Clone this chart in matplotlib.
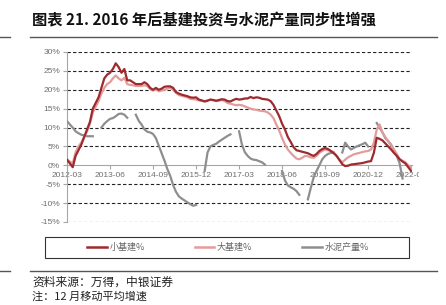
import numpy as np
import matplotlib
matplotlib.use("Agg")
import matplotlib.pyplot as plt
from matplotlib.patches import Rectangle
from matplotlib.lines import Line2D
from matplotlib.transforms import Bbox, TransformedBbox

plt.rcParams['font.family'] = ['Noto Sans CJK SC', 'DejaVu Sans']

# monthly, 2012-03 .. 2022-03 (121 points)
small_infra = [1.5, 0.5, -0.5, 2.5, 4, 5.5, 7.5, 9.5, 11.5, 15,
               16.5, 18, 20.5, 23, 24, 24.5, 25.5, 27, 26, 24.5,
               25.5, 22.5, 22.5, 22, 21.5, 21.5, 21.5, 22, 21.5, 20.5,
               20, 20.5, 20, 20.3, 20.8, 20.9, 20.9, 20.5, 19.4, 19,
               18.7, 18.5, 18.3, 18, 17.9, 18, 17.4, 17.2, 16.9, 17.1,
               17.4, 17.3, 17.1, 17.3, 17.5, 17.4, 17, 16.9, 17.3, 17.6,
               17.4, 17.5, 17.7, 17.7, 18.1, 17.8, 18, 17.9, 17.6, 17.5,
               17.4, 17, 16, 14.5, 13, 11, 9.5, 7.5, 6.2, 4.8,
               4, 3.8, 3.6, 3.4, 3.2, 2.8, 2.5, 3, 3.8, 4.3,
               4.6, 4.3, 3.8, 3.2, 2.5, 1.4, 0.3, -0.2, -0.1, 0.2,
               0.3, 0.4, 0.5, 0.6, 0.8, 1, 1.1, 3.3, 7.3, 7,
               6.6, 5.8, 5, 4.2, 3.3, 2.5, 1.6, 1.0, 0.5, -0.5,
               -1.5]
large_infra = [1.5, 1, 0.5, 3.5, 5, 6, 7.5, 9, 11, 14,
               15.5, 17, 19, 20.5, 21.5, 22, 23, 23.8, 23, 22.5,
               23.2, 21.5, 21.3, 21.2, 21, 21, 21, 21.2, 21, 20.2,
               19.8, 20.1, 19.6, 19.8, 20, 20.3, 20.5, 20, 19.2, 18.6,
               18.4, 18.2, 18, 17.6, 17.5, 17.4, 17.2, 17, 17, 17.2,
               17.4, 17.2, 17, 17.1, 17.3, 17, 16.5, 16.3, 16.1, 15.9,
               16, 15.9, 15.6, 15.3, 15, 14.8, 14.7, 14.5, 14.4, 14.3,
               14, 13.4, 12.5, 10.8, 9.2, 7.2, 5.5, 4.2, 3.3, 2.5,
               1.8, 1.6, 2, 2.5, 2.4, 2.1, 2, 2.5, 3.3, 3.8,
               4.2, 4, 3.8, 3.5, 2.5, 1.5, 0.8, 1.5, 2.1, 2.5,
               2.9, 3.1, 3.3, 3.5, 3.7, 3.8, 4.2, 6, 9.5, 10.8,
               8.7, 7.5, 6.4, 5.2, 4.2, 3, 1.6, 1.2, 0.8, 0,
               -0.6]
nan = np.nan
cement = [11.7, 10.8, 10, 9, 8.5, 8.1, 7.9, 7.7, 7.7, 7.7,
          nan, nan, 10, 11, 11.7, 12.3, 12.5, 13, 13.6, 13.7,
          13.4, 12.6, nan, nan, 13.4, 11.8, 10.8, 9.5, 8.9, 8.7,
          8.3, 7.2, 5.2, 3.2, 1.2, -1, -2.8, -5.2, -7, -8.2,
          -8.8, -9.3, -9.8, -10.3, -10.7, -10.5, nan, nan, -1.5, 3.4,
          5, 5.4, 5.7, 6.3, 6.8, 7.3, 7.8, 8.2, nan, nan,
          9, 5.5, 3.5, 2.5, 1.8, 1.5, 1.4, 1.1, 0.8, 0.2,
          nan, nan, nan, nan, nan, -1.5, -4, -5.3, -5.8, -6.2,
          -6.8, -7.8, nan, nan, -9, -6, -3.2, -1.5, 0, 1.6,
          2.5, 3, 3.3, 3.4, nan, nan, 3.4, 6, 5, 4.2,
          4.6, 5, 5.3, 5.6, 6, 5, nan, nan, 11.2, 10,
          8.7, 7.2, 6.4, 5.5, 4, 2.5, 0.5, -3.5, nan, nan,
          nan]
tick_labels = ['2012-03', '2013-06', '2014-09', '2015-12', '2017-03',
               '2018-06', '2019-09', '2020-12', '2022-03']
y_ticks = [-15, -10, -5, 0, 5, 10, 15, 20, 25, 30]

W, H = 446, 305
fig = plt.figure(figsize=(W / 100, H / 100), dpi=100)

def fx(px):
    return px / W

def fy(py):
    return 1 - py / H

ax = fig.add_axes([fx(67), fy(222), fx(412) - fx(67), fy(52) - fy(222)])
x = np.arange(len(small_infra))

for v in y_ticks:
    if v != 0:
        ax.axhline(v, color='#222222', lw=0.8, ls=(0, (3, 2)), zorder=1)

c_small, c_large, c_cement = '#9E2A2E', '#E29C9B', '#8E8E8E'
ax.plot(x, cement, color=c_cement, lw=1.6, zorder=3)
ax.plot(x, large_infra, color=c_large, lw=1.6, zorder=4)
ax.plot(x, small_infra, color=c_small, lw=1.6, zorder=5)

ax.set_xlim(0, 120.3)
ax.set_ylim(-15, 30)
for s in ['top', 'right']:
    ax.spines[s].set_visible(False)
ax.spines['bottom'].set_position(('data', 0))
ax.spines['bottom'].set_color('#A6A6A6')
ax.spines['left'].set_color('#A6A6A6')
ax.spines['bottom'].set_zorder(2)

ax.set_xticks(np.arange(0, 121, 15))
ax.set_xticklabels(tick_labels)
ax.set_yticks(y_ticks)
ax.set_yticklabels([f'{v}%' for v in y_ticks])
ax.tick_params(axis='both', colors='#A6A6A6', length=3, width=0.8,
               labelsize=6, labelcolor='#6E6E6E', pad=2)
for lab in ax.get_xticklabels() + ax.get_yticklabels():
    lab.set_family(['Liberation Sans', 'DejaVu Sans'])

# last label is cut in the original
clip = TransformedBbox(Bbox([[0, 0], [fx(419), 1]]), fig.transFigure)
last = ax.get_xticklabels()[-1]
last.set_clip_box(clip)
last.set_clip_on(True)

# title and rules
fig.text(fx(32), fy(20), '图表 21. 2016 年后基建投资与水泥产量同步性增强',
         fontsize=11, fontweight='bold', va='center', ha='left', color='#111111')
for py in (37, 271):
    fig.add_artist(Line2D([0, fx(10)], [fy(py), fy(py)], color='#555555', lw=1.0))
    fig.add_artist(Line2D([fx(30), fx(437)], [fy(py), fy(py)], color='#555555', lw=1.0))

# legend
fig.add_artist(Rectangle((fx(45), fy(258)), fx(409) - fx(45), fy(237) - fy(258),
                         transform=fig.transFigure, fill=False, ec='#333333', lw=0.8))
handles = [Line2D([], [], color=c, lw=1.8) for c in (c_small, c_large, c_cement)]
leg = fig.legend(handles, ['小基建%', '大基建%', '水泥产量%'], loc='center',
                 bbox_to_anchor=(fx(228), fy(247.5)), ncol=3, frameon=False,
                 fontsize=6.5, handlelength=2.2, handletextpad=0.3,
                 columnspacing=5.5, labelcolor='#666666')

fig.text(fx(32), fy(282), '资料来源：万得，中银证券', fontsize=8.5,
         va='center', ha='left', color='#222222')
fig.text(fx(32), fy(297), '注：12 月移动平均增速', fontsize=8,
         va='center', ha='left', color='#222222')

fig.savefig('out.png', dpi=100)
